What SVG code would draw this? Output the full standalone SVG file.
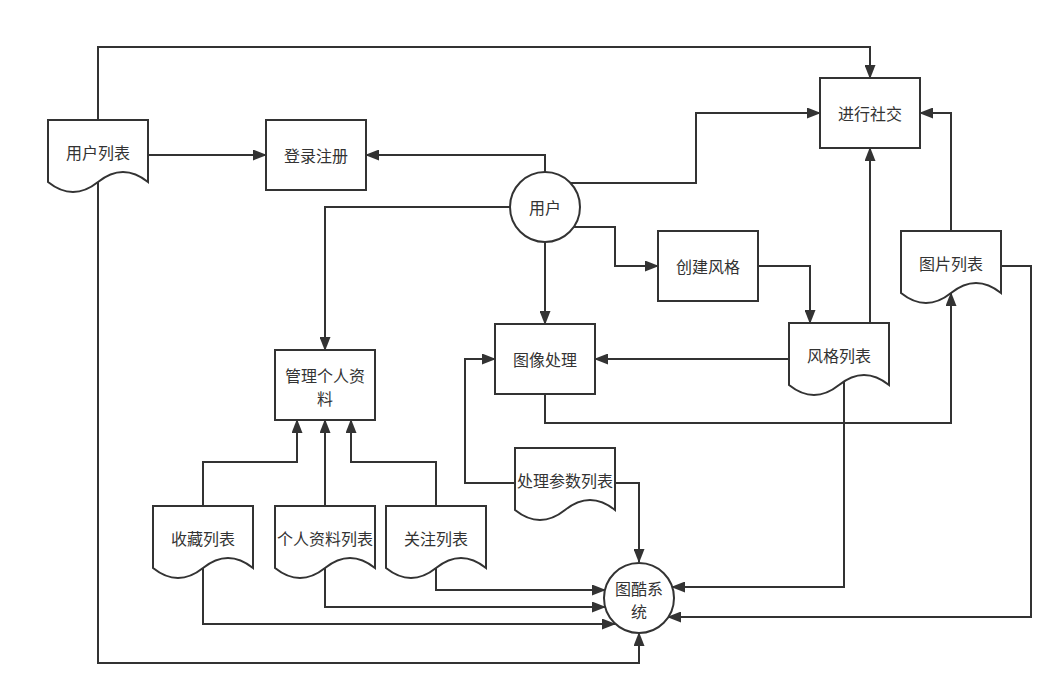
<svg xmlns="http://www.w3.org/2000/svg" width="1063" height="695" viewBox="0 0 1063 695">
<style>
.box{fill:#fff;stroke:#333;stroke-width:2}
.edge{fill:none;stroke:#333;stroke-width:2;marker-end:url(#arr)}
text{font-family:"Noto Sans CJK SC","Noto Sans",sans-serif;font-size:16px;fill:#333;text-anchor:middle;dominant-baseline:central}
</style>
<defs>
<marker id="arr" viewBox="0 0 14 11" refX="13" refY="5.5" markerWidth="14" markerHeight="11" markerUnits="userSpaceOnUse" orient="auto">
<path d="M0,0 L14,5.5 L0,11 Z" fill="#333"/>
</marker>
<path id="doc" d="M0,0 H100 V62 Q75,42 50,62 Q25,82 0,62 Z"/>
</defs>
<rect width="1063" height="695" fill="#fff"/>
<g id="connectors">
<path class="edge" d="M148,155 H266"/>
<path class="edge" d="M98,120 V47 H870 V78"/>
<path class="edge" d="M545,172 V155 H366"/>
<path class="edge" d="M570,183 H696 V113 H820"/>
<path class="edge" d="M510,207 H325 V350"/>
<path class="edge" d="M574,227 H615 V266 H658"/>
<path class="edge" d="M545,242 V324"/>
<path class="edge" d="M758,266 H810 V323"/>
<path class="edge" d="M789,359 H595"/>
<path class="edge" d="M870,323 V148"/>
<path class="edge" d="M951,231 V113 H920"/>
<path class="edge" d="M545,394 V423 H951 V293"/>
<path class="edge" d="M515,483 H465 V359 H495"/>
<path class="edge" d="M615,483 H639 V562"/>
<path class="edge" d="M203,506 V462 H297 V420"/>
<path class="edge" d="M325,506 V420"/>
<path class="edge" d="M436,506 V462 H351 V420"/>
<path class="edge" d="M436,568 V590 H605"/>
<path class="edge" d="M325,568 V607 H605"/>
<path class="edge" d="M203,568 V624 H615"/>
<path class="edge" d="M98,182 V663 H639 V633"/>
<path class="edge" d="M844,381 V587 H672"/>
<path class="edge" d="M1001,266 H1031 V617 H668"/>
</g>
<g id="n-userlist"><use href="#doc" class="box" x="48" y="120"/><text x="98" y="152">用户列表</text></g>
<g id="n-login"><rect class="box" x="266" y="120" width="100" height="70"/><text x="316" y="155">登录注册</text></g>
<g id="n-user"><circle class="box" cx="545" cy="207" r="35"/><text x="545" y="207">用户</text></g>
<g id="n-social"><rect class="box" x="820" y="78" width="100" height="70"/><text x="870" y="113">进行社交</text></g>
<g id="n-create"><rect class="box" x="658" y="231" width="100" height="70"/><text x="708" y="266">创建风格</text></g>
<g id="n-piclist"><use href="#doc" class="box" x="901" y="231"/><text x="951" y="263">图片列表</text></g>
<g id="n-process"><rect class="box" x="495" y="324" width="100" height="70"/><text x="545" y="359">图像处理</text></g>
<g id="n-stylelist"><use href="#doc" class="box" x="789" y="323"/><text x="839" y="355">风格列表</text></g>
<g id="n-profile"><rect class="box" x="275" y="350" width="100" height="70"/><text x="325" y="374.5">管理个人资<tspan x="325" dy="23">料</tspan></text></g>
<g id="n-params"><use href="#doc" class="box" x="515" y="448"/><text x="565" y="480">处理参数列表</text></g>
<g id="n-fav"><use href="#doc" class="box" x="153" y="506"/><text x="203" y="538">收藏列表</text></g>
<g id="n-proflist"><use href="#doc" class="box" x="275" y="506"/><text x="325" y="538">个人资料列表</text></g>
<g id="n-follow"><use href="#doc" class="box" x="386" y="506"/><text x="436" y="538">关注列表</text></g>
<g id="n-system"><circle class="box" cx="639" cy="598" r="35"/><text x="639" y="587.5">图酷系<tspan x="639" dy="23">统</tspan></text></g>
</svg>
